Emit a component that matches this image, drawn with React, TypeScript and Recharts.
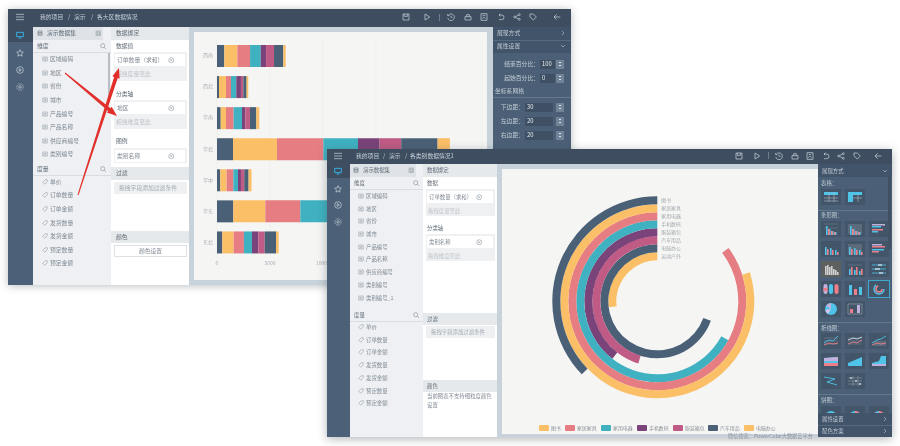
import React from "react";
import {
  BarChart, Bar, XAxis, YAxis, CartesianGrid,
  RadialBarChart, RadialBar, PolarAngleAxis, PolarRadiusAxis, Cell,
} from "recharts";

// ---------- chart data ----------
const regions = ["西南", "西北", "华南", "华北", "华中", "华东", "东北"];
const stackKeys = ["s1", "s2", "s3", "s4", "s5", "s6", "s7", "s8"];
const stackColors = ["#4a6076", "#fbbf67", "#e57d82", "#3fb1c1", "#7a4379", "#bf5b85", "#4a6076", "#fbbf67"];
const xTicks = [0, 5000, 10000, 15000, 20000, 25000];
const s1 = [690, 190, 350, 1510, 310, 1540, 500];
const s2 = [1230, 660, 500, 4150, 600, 3020, 1070];
const s3 = [1200, 470, 720, 4370, 630, 3300, 970];
const s4 = [1010, 500, 790, 3270, 440, 3100, 760];
const s5 = [500, 440, 310, 2040, 280, 1900, 600];
const s6 = [750, 220, 440, 2040, 310, 1900, 600];
const s7 = [880, 310, 600, 3430, 410, 3100, 1070];
const s8 = [220, 160, 280, 1160, 280, 900, 250];

const categories = ["图书", "家居家具", "家用电器", "手机数码", "服装箱包", "汽车用品", "电脑办公", "运动户外"];
const categoryValues = [13400, 28740, 30680, 24130, 14200, 16300, 25000, 9700];
const ringColors = ["#4a6076", "#fbbf67", "#e57d82", "#3fb1c1", "#7a4379", "#bf5b85", "#4a6076", "#fbbf67"];
const legendNames = ["图书", "家居家具", "家用电器", "手机数码", "服装箱包", "汽车用品", "电脑办公"];
const legendColors = ["#fbbf67", "#e57d82", "#3fb1c1", "#7a4379", "#bf5b85", "#4a6076", "#fbbf67"];

const stackSeries = [s1, s2, s3, s4, s5, s6, s7, s8];
const barRows = regions.map((name, i) => {
  const row: Record<string, string | number> = { name };
  stackKeys.forEach((k, j) => { row[k] = stackSeries[j][i]; });
  return row;
});
// the first row is drawn on the innermost ring
const ringRows = categories.map((name, i) => ({ name, value: categoryValues[i], color: ringColors[i] })).reverse();

// ---------- interface text ----------
const dims1 = ["区域编码", "地区", "省份", "城市", "产品编号", "产品名称", "供应商编号", "类别编号"];
const dims1Y = [59, 73, 86, 100, 113.5, 127, 140.5, 154];
const measures = ["单价", "订单数量", "订单金额", "发货数量", "发货金额", "预定数量", "预定金额"];
const meas1Y = [182, 195, 209, 223, 236, 250, 263];
const dims2 = ["区域编码", "地区", "省份", "城市", "产品编号", "产品名称", "供应商编号", "类别编号", "类别编号_1"];
const dims2Y = [196, 208.5, 221, 234, 247, 259, 272, 285, 298];
const meas2Y = [327, 340, 352, 365, 378, 391, 403];
const fields1 = [["结束百分比：", "100", 64, 540, 15], ["起始百分比：", "0", 78, 540, 15], ["下边距：", "30", 107, 525, 28], ["左边距：", "20", 121, 525, 28], ["右边距：", "20", 135, 525, 28]];

const FONT = '"Noto Sans CJK SC", "Noto Sans", sans-serif';
const C = {
  head: "#3e4e60", side: "#4c6178", panel: "#4b6076", band: "#42546a", soft: "#eef0f3",
  bar: "#e6e9ec", wrap: "#c8d2da", canvas: "#f5f5f4", ink: "#808a94", strong: "#5f6a75", faint: "#c0c5ca", light: "#c4ced7", cyan: "#4fc3e8", pink: "#ee7f8a",
};

type BoxP = { x: number; y: number; w: number; h: number; bg: string; style?: React.CSSProperties; children?: React.ReactNode };
const Box = ({ x, y, w, h, bg, style, children }: BoxP) => (
  <div style={{ position: "absolute", left: x, top: y, width: w, height: h, background: bg, ...style }}>{children}</div>
);
const T = ({ x, y, t, c = C.ink, s = 5.8, anchor = "left" }: { x: number; y: number; t: string; c?: string; s?: number; anchor?: string }) => (
  <div style={{
    position: "absolute", left: x, top: y - 4, height: 8, lineHeight: "8px", fontSize: s, color: c, whiteSpace: "nowrap",
    transform: anchor === "right" ? "translateX(-100%)" : anchor === "center" ? "translateX(-50%)" : undefined,
  }}>{t}</div>
);
const T2 = (p: { x: number; y: number; t: string; c?: string; s?: number }) => <T s={5.4} {...p} />;

const Ico = ({ x, y, k, c = C.light, s = 8 }: { x: number; y: number; k: string; c?: string; s?: number }) => (
  <svg style={{ position: "absolute", left: x - s / 2, top: y - s / 2 }} width={s} height={s} viewBox="0 0 12 12" fill="none" stroke={c} strokeWidth={1.1}>
    {k === "menu" && <path d="M0 2H12M0 6H12M0 10H12" />}
    {k === "monitor" && <path d="M1 2H11V8.5H1ZM4 10.5H8" strokeWidth={1.4} />}
    {k === "star" && <path d="M6 1L7.5 4.4 11 4.8 8.4 7.2 9.1 10.8 6 9 2.9 10.8 3.6 7.2 1 4.8 4.5 4.4Z" />}
    {k === "play" && <><circle cx="6" cy="6" r="5" /><path d="M4.8 3.8L8 6 4.8 8.2Z" /></>}
    {k === "gear" && <><circle cx="6" cy="6" r="4.7" strokeDasharray="2 0.8" /><circle cx="6" cy="6" r="1.8" /></>}
    {k === "save" && <path d="M1.5 1.5H10.5V10.5H1.5ZM3.5 1.5V5H8.5V1.5" />}
    {k === "tri" && <path d="M3 1.5L10 6 3 10.5Z" />}
    {k === "hist" && <><path d="M2 3.5A5 5 0 1 1 1.2 7.5" /><path d="M6 4V6.5H8M1 1.5V4H3.5" /></>}
    {k === "lift" && <path d="M1.5 5.5H10.5V10.5H1.5ZM4 5.5V2.5H8V5.5" />}
    {k === "pic" && <path d="M1.5 1H10.5V11H1.5ZM3.5 8.5L5.5 6 8.5 8.5M4 3.5H8" />}
    {k === "undo" && <path d="M3 3H7A3.5 3.5 0 0 1 7 10H3M3 3L5 1M3 3L5 5" />}
    {k === "share" && <><circle cx="9.5" cy="2.5" r="1.4" /><circle cx="2.5" cy="6" r="1.4" /><circle cx="9.5" cy="9.5" r="1.4" /><path d="M4 5.3L8.2 3.2M4 6.8L8.2 8.8" /></>}
    {k === "tag" && <path d="M1.5 1.5H6.5L11 6 6.5 10.5 1.5 6Z" />}
    {k === "back" && <path d="M11 6H1.5M5.5 2L1.5 6 5.5 10" />}
    {k === "search" && <><circle cx="5" cy="5" r="3.8" /><path d="M8 8L11 11" /></>}
    {k === "db" && <path d="M2 2H10V10.5H2ZM2 5H10M2 7.8H10" />}
    {k === "x" && <><circle cx="6" cy="6" r="4.6" /><path d="M4.3 4.3L7.7 7.7M7.7 4.3L4.3 7.7" /></>}
    {k === "dim" && <path d="M1.5 2H10.5V10H1.5ZM3.5 5H8.5M3.5 7.5H8.5" />}
    {k === "meas" && <path d="M1.5 6.5L6.5 1.5H10.5V5.5L5.5 10.5Z" />}
    {k === "copy" && <path d="M2 2H10V10H2ZM4 4H8V8H4Z" />}
    {k === "down" && <path d="M2 4L6 8 10 4" />}
    {k === "right" && <path d="M4 2L8 6 4 10" />}
  </svg>
);

const Thumb = ({ x, y, k, h = 16, active = false }: { x: number; y: number; k: string; h?: number; active?: boolean }) => {
  const a = C.cyan, p = C.pink, l = "#c3b0dc";
  const bars = (list: number[][], cols: string[]) => list.map((v, i) => <rect key={i} x={v[0]} y={16 - 2 - v[1]} width={1.6} height={v[1]} fill={cols[i % cols.length]} />);
  const hb = (list: number[][], cols: string[]) => list.map((v, i) => <rect key={i} x={3} y={v[0]} width={v[1]} height={1.5} fill={cols[i % cols.length]} />);
  return (
    <svg style={{ position: "absolute", left: x, top: y, outline: active ? "1px solid #3fa8cf" : undefined }} width={20} height={h} viewBox={`0 0 20 ${h}`}>
      <rect width={20} height={h} fill={k === "grey" ? "#5e5f5f" : "#435669"} />
      {k === "table" && <><rect x="3" y="3" width="14" height="3" fill={a} /><path d="M3 9H17M3 12H17M8 3V13M13 3V13" stroke="#aeb9c4" strokeWidth=".6" /></>}
      {k === "pivot" && <><rect x="3" y="3" width="14" height="3" fill={a} /><rect x="3" y="3" width="5" height="10" fill={a} /><path d="M8 9H17M13 6V13" stroke="#aeb9c4" strokeWidth=".6" /></>}
      {k === "vb" && <>{bars([[5, 9], [8, 6], [11, 4], [14, 3]], [a])}{bars([[7, 6], [10, 4], [13, 3]], [p])}<path d="M3 3H17M3 7H17" stroke="#8796a5" strokeWidth=".4" /></>}
      {k === "vbf" && <><rect x="3" y="3" width="14" height="10" fill="#5b6b7c" />{bars([[5, 9], [8, 6], [11, 4], [14, 3]], [a])}{bars([[7, 6], [10, 4], [13, 3]], [p])}</>}
      {k === "hb" && <>{hb([[3, 13], [5, 9], [8, 11], [10, 6]], [l, a, p, a])}</>}
      {k === "vb2" && <>{bars([[4, 8], [6, 6], [9, 7], [11, 5], [14, 5], [16, 3]], [a, p])}</>}
      {k === "vbf2" && <><rect x="3" y="3" width="14" height="10" fill="#5b6b7c" />{bars([[4, 8], [6, 6], [9, 7], [11, 5], [14, 5], [16, 3]], [a, p])}</>}
      {k === "hb2" && <>{hb([[3, 10], [5, 13], [8, 12], [10, 7]], [l, p, a, p])}</>}
      {k === "grey" && <>{bars([[4, 9], [6, 10], [8, 8], [10, 9], [12, 6], [14, 5], [16, 3]], ["#cfcfcf"])}</>}
      {k === "vb3" && <>{bars([[4, 6], [6, 8], [9, 5], [11, 8], [14, 4], [16, 6]], [a, p])}<path d="M3 4H17" stroke="#8796a5" strokeWidth=".4" /></>}
      {k === "hl" && <><path d="M3 4H17M3 8H17M3 12H17" stroke={a} strokeWidth=".8" /><path d="M9 4H13M6 8H11M10 12H14" stroke="#fff" strokeWidth="1.2" /></>}
      {k === "pill" && <><rect x="2.5" y="3" width="4" height="10" rx="2" fill={l} /><rect x="8" y="3" width="4" height="10" rx="2" fill={a} /><rect x="13.5" y="3" width="4" height="10" rx="2" fill={p} /><rect x="2.5" y="7" width="4" height="3" fill={p} /></>}
      {k === "col" && <><rect x="4" y="4" width="3" height="10" fill={a} /><rect x="9" y="8" width="3" height="6" fill={p} /><rect x="14" y="6" width="3" height="8" fill={a} /></>}
      {k === "ring" && <><circle cx="10" cy="8" r="5" fill="none" stroke={a} strokeWidth="1.5" strokeDasharray="20 12" /><circle cx="10" cy="8" r="3" fill="none" stroke={p} strokeWidth="1.5" strokeDasharray="13 6" /></>}
      {k === "pie" && <><circle cx="10" cy="8" r="6" fill={a} /><path d="M10 8L5 5A6 6 0 0 1 10 2Z" fill={l} /><path d="M10 8L7 13A6 6 0 0 1 4.2 9Z" fill="#d7c4ea" /></>}
      {k === "box" && <><path d="M3 3H17V13H3Z" fill="none" stroke="#aeb9c4" strokeWidth=".5" /><rect x="5" y="8" width="3" height="4" fill={p} /><rect x="12" y="4" width="3" height="8" fill={l} /></>}
      {k === "line" && <><path d="M3 5H17M3 8H17M3 11H17" stroke="#8796a5" strokeWidth=".4" /><path d="M3 10L8 7 12 8 17 3" fill="none" stroke={a} strokeWidth=".9" /><path d="M3 12L8 10 12 11 17 10" fill="none" stroke={p} strokeWidth=".9" /></>}
      {k === "line2" && <><path d="M3 5H17M3 8H17M3 11H17" stroke="#8796a5" strokeWidth=".4" /><path d="M3 7L8 5 12 6 17 4" fill="none" stroke="#fff" strokeWidth=".7" /><path d="M3 11L8 9 12 10 17 7" fill="none" stroke={p} strokeWidth=".9" /></>}
      {k === "linef" && <><rect x="5" y="8" width="12" height="5" fill="#5b6b7c" /><path d="M3 10L8 7 12 6 17 3" fill="none" stroke={a} strokeWidth=".9" /><path d="M3 12L8 10 12 11 17 10" fill="none" stroke={p} strokeWidth=".9" /></>}
      {k === "area" && <><path d="M3 5L17 4V13H3Z" fill={a} /><path d="M3 5L17 4V8H3Z" fill={l} /><path d="M3 10H17V13H3Z" fill={p} /></>}
      {k === "area2" && <path d="M3 10L17 4V13H3Z" fill={a} />}
      {k === "area3" && <><path d="M3 10L10 8 12 3H17V13H3Z" fill={a} /><path d="M3 11H17V13H3Z" fill={l} /></>}
      {k === "zig" && <path d="M3 4L14 6 6 9 16 12" fill="none" stroke={a} strokeWidth=".9" />}
      {k === "dot" && <><path d="M3 5H17M3 8H17M3 11H17M8 3V13M13 3V13" stroke="#aeb9c4" strokeWidth=".4" /><path d="M5 5H7M10 8H12M14 11H16" stroke="#fff" strokeWidth="1.2" /></>}
      {k === "pie1" && <><circle cx="10" cy="11" r="6" fill={a} /></>}
      {k === "pie2" && <><circle cx="10" cy="11" r="6" fill={a} /><path d="M10 11V5A6 6 0 0 1 16 11Z" fill={p} /></>}
      {k === "pie3" && <><circle cx="10" cy="11" r="5" fill="none" stroke={p} strokeWidth="2" /><path d="M5 11A5 5 0 0 1 10 6" fill="none" stroke={a} strokeWidth="2" /></>}
    </svg>
  );
};

const Arrow = ({ from, to }: { from: number[]; to: number[] }) => {
  const dx = to[0] - from[0], dy = to[1] - from[1], L = Math.hypot(dx, dy);
  const ux = dx / L, uy = dy / L, nx = -uy, ny = ux;
  const bx = to[0] - ux * 10, by = to[1] - uy * 10;
  const pts = [
    [from[0] + nx * 0.5, from[1] + ny * 0.5],
    [bx + nx * 1.9, by + ny * 1.9],
    [bx + nx * 3.8, by + ny * 3.8],
    to,
    [bx - nx * 3.8, by - ny * 3.8],
    [bx - nx * 1.9, by - ny * 1.9],
    [from[0] - nx * 0.5, from[1] - ny * 0.5],
  ];
  return <polygon points={pts.map((p) => p.join(",")).join(" ")} fill="#e1302b" />;
};

const FieldBox = ({ x, y, w, h, label, hint, xIcon, s = 5.8 }: { x: number; y: number; w: number; h: number; label: string; hint?: string; xIcon: number; s?: number }) => (
  <>
    <Box x={x} y={y} w={w} h={h} bg="#eef0f2" />
    <Box x={x + 1} y={y + 1.5} w={w - 3} h={12} bg="#fff" />
    <T x={x + 3} y={y + 8} t={label} s={s} />
    <Ico x={xIcon} y={y + 8} k="x" s={6.5} c="#8c96a0" />
    {hint && <T x={x + 2} y={y + 22} t={hint} c={C.faint} s={s} />}
  </>
);

const Chrome = ({ items }: { items: [string, number, number][] }) => (
  <>{items.map(([k, x, y], i) => <Ico key={i} k={k} x={x} y={y} />)}</>
);

const StackedChart = () => (
  <BarChart
    width={292} height={248} data={barRows} layout="vertical"
    margin={{ top: 8, right: 5, bottom: 0, left: 0 }} barSize={22} barGap={0} barCategoryGap={0}
  >
    <CartesianGrid horizontal={false} stroke="#ececec" strokeWidth={0.6} />
    <XAxis type="number" domain={[0, 25000]} ticks={xTicks} height={22.5} axisLine={false} tickLine={false} tickMargin={0} tick={{ fontSize: 5, fill: "#aab0b6", dy: -2 }} />
    <YAxis type="category" dataKey="name" width={22} axisLine={false} tickLine={false} tickSize={4} tickMargin={0} interval={0} tick={{ fontSize: 5, fill: "#aab0b6" }} />
    {stackKeys.map((k, i) => (
      <Bar key={k} dataKey={k} stackId="a" fill={stackColors[i]} isAnimationActive={false} />
    ))}
  </BarChart>
);

const RingLabel = (p: any) => (
  <text x={p.x + 4} y={p.y} dy={1.8} fontSize={4.9} fill="#a4a9ae">{p.payload.value}</text>
);

const RingChart = () => (
  <RadialBarChart
    width={316} height={265} data={ringRows} cx={155.3} cy={132.3}
    innerRadius={41} outerRadius={105} startAngle={90} endAngle={450}
    barCategoryGap={0} barGap={0} margin={{ top: 0, right: 0, bottom: 0, left: 0 }}
  >
    <PolarAngleAxis type="number" domain={[0, 36000]} tick={false} axisLine={false} tickLine={false} />
    <RadialBar dataKey="value" isAnimationActive={false}>
      {ringRows.map((r) => <Cell key={r.name} fill={r.color} />)}
    </RadialBar>
    <PolarRadiusAxis type="category" dataKey="name" angle={90} axisLine={false} tickLine={false} tick={RingLabel} />
  </RadialBarChart>
);

const legendX = [539, 565, 601, 637, 673, 708, 744];

const thumbRows: [string[], number][] = [
  [["table", "pivot"], 189],
  [["vb", "vbf", "hb"], 221],
  [["vb2", "vbf2", "hb2"], 241],
  [["grey", "vb3", "hl"], 261],
  [["pill", "col", "ring"], 281],
  [["pie", "box"], 301],
  [["line", "line2", "linef"], 333],
  [["area", "area2", "area3"], 353],
  [["zig", "dot"], 373],
  [["pie1", "pie2", "pie3"], 406],
];
const thumbCols = [821, 845, 869];

export default function App() {
  return (
    <div style={{ position: "fixed", left: 0, top: 0, width: 900, height: 446, overflow: "hidden", background: "#fff", fontFamily: FONT, filter: "blur(0.5px)" }}>
      {/* back window */}
      <Box x={8} y={9} w={563} h={276} bg={C.wrap} style={{ boxShadow: "0 1px 8px rgba(60,70,80,.35)" }} />
      <Box x={8} y={9} w={563} h={18} bg={C.head} />
      <Ico x={20} y={17} k="menu" s={8} />
      <T x={40} y={17} t="我的项目" c={C.light} />
      <T x={68} y={17} t="/" c={C.light} />
      <T x={74} y={17} t="演示" c={C.light} />
      <T x={91} y={17} t="/" c={C.light} />
      <T x={97} y={17} t="各大区数据情况" c={C.light} />
      <Chrome items={[["save", 406, 17], ["tri", 427, 17], ["hist", 451, 17], ["lift", 468, 17], ["pic", 484, 17], ["undo", 501, 17], ["share", 517, 17], ["tag", 533, 17], ["back", 557, 17]]} />
      <Box x={439} y={14} w={0.6} h={7} bg="#6d7e8f" />
      <Box x={8} y={27} w={25} h={258} bg={C.side} />
      <Box x={8} y={27} w={25} h={15} bg={C.head} />
      <Ico x={20} y={35} k="monitor" c="#38b6e8" s={8} />
      <Ico x={20} y={53} k="star" />
      <Ico x={20} y={70} k="play" />
      <Ico x={20} y={87} k="gear" />

      <Box x={33} y={27} w={78} h={258} bg={C.soft} />
      <Box x={33} y={27} w={70} h={13} bg="#dfe3e8" />
      <Ico x={40} y={33} k="db" s={6} c="#5d6873" />
      <T x={47} y={33} t="演示数据集" c={C.strong} />
      <Ico x={98} y={33} k="copy" s={6.5} c="#8c97a1" />
      <T x={37} y={46} t="维度" c={C.strong} />
      <Ico x={103} y={46} k="search" s={6.5} c="#808a94" />
      <Box x={33} y={52} w={78} h={0.6} bg="#d8dde1" />
      <Box x={107.5} y={53} w={2.5} h={47} bg="#b8bec4" />
      {dims1.map((d, i) => <React.Fragment key={d}><Ico x={45} y={dims1Y[i]} k="dim" s={6} c="#8c97a1" /><T x={50} y={dims1Y[i]} t={d} /></React.Fragment>)}
      <T x={37} y={169} t="度量" c={C.strong} />
      <Ico x={103} y={169} k="search" s={6.5} c="#808a94" />
      <Box x={33} y={175} w={78} h={0.6} bg="#d8dde1" />
      {measures.map((d, i) => <React.Fragment key={d}><Ico x={45} y={meas1Y[i]} k="meas" s={6} c="#8c97a1" /><T x={50} y={meas1Y[i]} t={d} /></React.Fragment>)}

      <Box x={111} y={27} w={78} h={258} bg="#fff" />
      <Box x={111} y={27} w={78} h={13} bg={C.bar} />
      <T x={116} y={33} t="数据绑定" c={C.strong} />
      <T x={116} y={46} t="数据值" c={C.strong} />
      <FieldBox x={114} y={52} w={73} h={29} label="订单数量（求和）" hint="拖拽度量至此" xIcon={171} />
      <T x={116} y={94} t="分类轴" c={C.strong} />
      <FieldBox x={114} y={100} w={73} h={29} label="地区" hint="拖拽维度至此" xIcon={171} />
      <T x={116} y={141} t="图例" c={C.strong} />
      <FieldBox x={114} y={148} w={73} h={15} label="类别名称" xIcon={171} />
      <Box x={111} y={167} w={78} h={13} bg={C.bar} />
      <T x={116} y={173} t="过滤" c={C.strong} />
      <Box x={114} y={182} w={73} h={12} bg="#eef0f2" />
      <T x={119} y={188} t="拖拽字段添加过滤条件" c="#a4abb2" />
      <Box x={111} y={231} w={78} h={12} bg={C.bar} />
      <T x={116} y={237} t="颜色" c={C.strong} />
      <Box x={114} y={245} w={73} h={12} bg="#fff" style={{ border: "0.6px solid #dde1e5", boxSizing: "border-box" }} />
      <T x={150.5} y={251} t="颜色设置" anchor="center" />

      <Box x={194} y={32} w={293} h={248} bg={C.canvas} />
      <div style={{ position: "absolute", left: 195, top: 32 }}><StackedChart /></div>

      <Box x={493} y={27} w={78} h={258} bg={C.panel} />
      <Box x={493} y={27} w={78} h={13} bg={C.band} />
      <Box x={493} y={40} w={78} h={13} bg={C.band} style={{ borderTop: "0.6px solid #56697d", boxSizing: "border-box" }} />
      <T x={497} y={33} t="展现方式" c={C.light} />
      <T x={497} y={46} t="属性设置" c={C.light} />
      <Ico x={563} y={33} k="right" s={6} />
      <Ico x={563} y={46} k="down" s={6} />
      <T x={495} y={91} t="坐标系网格" c={C.light} />
      <Box x={493} y={97} w={78} h={0.6} bg="#64778b" />
      {fields1.map(([lab, val, y, ix, iw]) => (
        <React.Fragment key={lab as string}>
          <T x={(ix as number) - 1} y={y as number} t={lab as string} c={C.light} anchor="right" />
          <Box x={ix as number} y={(y as number) - 4.5} w={iw as number} h={9} bg="#3f5064" />
          <T x={(ix as number) + 2} y={y as number} t={val as string} c="#e6ebef" />
          <Box x={556} y={(y as number) - 4.5} w={8} h={9} bg="#718497" />
          <Box x={559} y={(y as number) - 2.5} w={2} h={1} bg="#dfe5ea" />
          <Box x={559} y={(y as number) + 1} w={2} h={1} bg="#dfe5ea" />
        </React.Fragment>
      ))}

      <svg style={{ position: "absolute", left: 0, top: 0 }} width={330} height={290}>
        <Arrow from={[65, 73]} to={[117, 116]} />
        <Arrow from={[78, 195]} to={[119, 68]} />
      </svg>

      {/* front window */}
      <Box x={327} y={149} w={565} h={288} bg={C.wrap} style={{ boxShadow: "0 2px 9px rgba(60,70,80,.4)" }} />
      <Box x={327} y={149} w={565} h={15} bg={C.head} />
      <Ico x={338} y={156} k="menu" s={8} />
      <T x={356} y={156} t="我的项目" c={C.light} />
      <T x={383} y={156} t="/" c={C.light} />
      <T x={389} y={156} t="演示" c={C.light} />
      <T x={405} y={156} t="/" c={C.light} />
      <T x={410} y={156} t="各类别数据情况1" c={C.light} />
      <Chrome items={[["save", 739, 156], ["tri", 757, 156], ["hist", 779, 156], ["lift", 795, 156], ["pic", 810, 156], ["undo", 826, 156], ["share", 841, 156], ["tag", 857, 156], ["back", 878, 156]]} />
      <Box x={768} y={152} w={0.6} h={7} bg="#6d7e8f" />
      <Box x={327} y={164} w={23} h={273} bg={C.side} />
      <Box x={327} y={164} w={23} h={14} bg={C.head} />
      <Ico x={338} y={171} k="monitor" c="#38b6e8" s={8} />
      <Ico x={338} y={189} k="star" />
      <Ico x={338} y={205} k="play" />
      <Ico x={338} y={222} k="gear" />

      <Box x={350} y={164} w={73} h={273} bg={C.soft} />
      <Box x={350} y={164} w={66} h={13} bg="#dfe3e8" />
      <Ico x={356} y={170} k="db" s={6} c="#5d6873" />
      <T2 x={363} y={170} t="演示数据集" c={C.strong} />
      <Ico x={411} y={170} k="copy" s={6.5} c="#8c97a1" />
      <T2 x={354} y={183} t="维度" c={C.strong} />
      <Ico x={416} y={183} k="search" s={6.5} c="#808a94" />
      <Box x={350} y={189} w={73} h={0.6} bg="#d8dde1" />
      {dims2.map((d, i) => <React.Fragment key={d}><Ico x={361} y={dims2Y[i]} k="dim" s={6} c="#8c97a1" /><T2 x={366} y={dims2Y[i]} t={d} /></React.Fragment>)}
      <T2 x={354} y={315} t="度量" c={C.strong} />
      <Ico x={416} y={315} k="search" s={6.5} c="#808a94" />
      <Box x={350} y={321} w={73} h={0.6} bg="#d8dde1" />
      {measures.map((d, i) => <React.Fragment key={d}><Ico x={361} y={meas2Y[i]} k="meas" s={6} c="#8c97a1" /><T2 x={366} y={meas2Y[i]} t={d} /></React.Fragment>)}

      <Box x={423} y={164} w={74} h={273} bg="#fff" />
      <Box x={423} y={164} w={74} h={13} bg={C.bar} />
      <T2 x={427} y={170} t="数据绑定" c={C.strong} />
      <T2 x={427} y={183} t="数据" c={C.strong} />
      <FieldBox x={426} y={189} w={69} h={27} label="订单数量（求和）" hint="拖拽度量至此" xIcon={479} s={5.4} />
      <T2 x={427} y={228} t="分类轴" c={C.strong} />
      <FieldBox x={426} y={234} w={69} h={27} label="类别名称" hint="拖拽维度至此" xIcon={479} s={5.4} />
      <Box x={423} y={313} w={74} h={12} bg={C.bar} />
      <T2 x={427} y={319} t="过滤" c={C.strong} />
      <Box x={426} y={326} w={69} h={12} bg="#eef0f2" />
      <T2 x={431} y={332} t="拖拽字段添加过滤条件" c="#a4abb2" />
      <Box x={423} y={380} w={74} h={12} bg={C.bar} />
      <T2 x={427} y={386} t="颜色" c={C.strong} />
      <T2 x={427} y={396} t="当前图表不支持细粒度颜色" />
      <T2 x={427} y={405} t="设置" />

      <Box x={502} y={169} w={316} h={265} bg={C.canvas} />
      <div style={{ position: "absolute", left: 502, top: 169 }}><RingChart /></div>
      {legendNames.map((n, i) => (
        <React.Fragment key={n}>
          <Box x={legendX[i]} y={425} w={10} h={6} bg={legendColors[i]} style={{ borderRadius: 1 }} />
          <T x={legendX[i] + 12} y={428} t={n} c="#8a9097" s={4.9} />
        </React.Fragment>
      ))}

      <Box x={818} y={164} w={74} h={273} bg={C.panel} />
      <Box x={818} y={164} w={74} h={13} bg={C.band} />
      <T2 x={822} y={171} t="展现方式" c={C.light} />
      <Ico x={885} y={171} k="down" s={6} />
      <T2 x={821} y={183} t="表格：" c={C.light} />
      <T2 x={821} y={215} t="条形图：" c={C.light} />
      <T2 x={821} y={328} t="折线图：" c={C.light} />
      <T2 x={821} y={400} t="饼图：" c={C.light} />
      <Box x={818} y={210} w={74} h={0.6} bg="#64778b" />
      <Box x={818} y={322} w={74} h={0.6} bg="#64778b" />
      <Box x={818} y={394} w={74} h={0.6} bg="#64778b" />
      <Box x={888} y={177} w={2.5} h={72} bg="#3f5064" />
      {thumbRows.map(([kinds, y]) => kinds.map((k, i) => (
        <Thumb key={k} k={k} x={thumbCols[i]} y={y} h={y === 406 ? 7 : 16} active={k === "ring"} />
      )))}
      <Box x={818} y={413} w={74} h={12} bg={C.band} />
      <Box x={818} y={425} w={74} h={12} bg={C.band} style={{ borderTop: "0.6px solid #56697d", boxSizing: "border-box" }} />
      <T2 x={822} y={419} t="属性设置" c={C.light} />
      <T2 x={822} y={431} t="配色方案" c={C.light} />
      <Ico x={885} y={419} k="right" s={6} />
      <Ico x={885} y={431} k="right" s={6} />
      <T x={728} y={436} t="微信搜索：PowerCube大数据云平台" c="#8a94a0" s={5.2} />
    </div>
  );
}
